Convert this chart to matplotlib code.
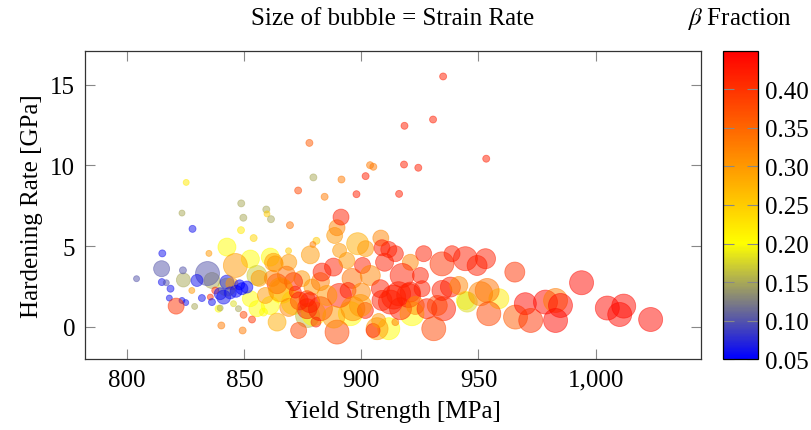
import matplotlib
matplotlib.use('Agg')
import matplotlib.pyplot as plt
import numpy as np
from matplotlib.colors import LinearSegmentedColormap
from matplotlib.ticker import FuncFormatter

plt.rcParams['font.family'] = ['Liberation Serif', 'DejaVu Serif']
plt.rcParams['mathtext.fontset'] = 'stix'

# yield strength [MPa], hardening rate [GPa], beta fraction, strain rate (bubble size)
# background (yellow / olive) samples first, then the rest in measurement order
yield_strength = [
    842.6, 842.6, 852.6, 855.4, 861.1, 866.0, 871.0, 877.0, 852.6, 855.4,
    861.1, 895.3, 879.6, 911.7, 921.6, 944.4, 945.2, 958.7, 824.0, 836.2,
    814.7, 834.3,
    804.0, 815.0, 814.8, 818.5, 816.7, 818.0, 823.4, 825.0, 823.8, 828.8,
    831.9, 827.6, 827.9, 825.2, 823.4, 834.9, 837.6, 835.5, 836.2, 839.0,
    839.7, 840.2, 845.4, 847.5, 849.7, 853.3, 849.3, 848.7, 849.6, 848.6,
    854.0, 859.4, 859.7, 861.4, 869.5, 868.9, 873.0, 877.8, 879.5, 880.8,
    879.3, 884.3, 891.5, 897.9, 901.8, 903.7, 905.1, 916.1, 918.2, 918.4,
    924.3, 930.6, 934.9, 953.3, 914.5, 880.6,
    820.9, 829.8, 839.7, 841.2, 842.6, 846.2, 844.7, 849.0, 851.1, 846.5,
    848.0, 844.0, 856.3, 862.5, 864.0, 859.0, 858.2, 863.2, 869.0, 864.0,
    873.2, 874.6, 878.9, 876.8, 876.8, 878.2, 871.0, 878.0, 865.5, 873.5,
    868.0, 862.0, 871.8, 869.0, 882.5, 896.0, 883.2, 888.1, 893.8, 890.7,
    888.6, 889.6, 891.3, 898.4, 901.8, 900.5, 903.8, 908.3, 908.8, 911.7,
    909.9, 914.5, 920.9, 926.6, 934.4, 938.7, 944.4, 949.4, 953.0, 965.5,
    917.4, 925.2, 882.5, 890.6, 894.3, 900.0, 896.4, 901.7, 889.6, 888.2,
    885.3, 899.6, 908.1, 913.8, 908.8, 906.7, 905.0, 907.4, 912.4, 916.7,
    915.9, 920.9, 925.9, 920.2, 923.0, 928.0, 935.1, 932.4, 930.9, 934.4,
    938.0, 941.6, 950.9, 953.7, 954.4, 965.8, 970.0, 972.3, 978.6, 982.9,
    985.0, 982.9, 994.0, 1005.0, 1012.0, 1010.3, 1023.5,
]
hardening_rate = [
    4.94, 2.46, 4.20, 3.18, 4.32, 2.20, 1.50, 0.70, 1.74, 1.12,
    1.32, 0.81, 0.81, -0.12, 0.81, 1.63, 1.53, 1.74, 2.90, 2.87,
    3.60, 3.30,
    2.98, 4.55, 2.77, 2.36, 2.73, 1.78, 1.63, 1.50, 3.50, 1.26,
    1.78, 2.25, 6.07, 8.95, 7.05, 4.55, 2.25, 1.84, 1.53, 1.12,
    1.16, 0.08, 1.43, 1.12, 0.74, 0.45, -0.23, 7.65, 6.76, 5.99,
    5.50, 7.27, 7.00, 6.67, 6.30, 4.71, 8.45, 11.40, 9.26, 5.33,
    5.10, 8.06, 9.13, 8.22, 9.34, 10.02, 9.92, 8.24, 10.06, 12.46,
    9.86, 12.85, 15.52, 10.42, 0.29, 0.29,
    1.28, 2.87, 2.05, 1.84, 2.77, 3.80, 2.67, 2.36, 2.46, 2.20,
    2.60, 2.10, 3.00, 4.00, 2.67, 1.94, 0.91, 3.90, 4.00, 0.29,
    -0.23, 2.98, 2.46, 1.74, 1.12, 4.46, 2.80, 1.50, 2.30, 1.60,
    3.20, 3.00, 2.15, 1.20, 2.80, 3.00, 3.39, 3.70, 4.11, 4.73,
    5.66, 6.14, 6.80, 5.15, 4.84, 3.80, 3.18, 5.50, 4.90, 4.79,
    4.00, 4.53, 4.00, 4.53, 3.90, 4.53, 4.22, 3.80, 4.22, 3.39,
    3.18, 3.18, 1.12, 1.94, 2.25, 2.15, 1.12, 1.01, -0.33, 0.60,
    1.94, 1.32, 2.36, 1.84, 1.63, -0.12, -0.23, 0.39, 1.53, 1.12,
    2.05, 2.15, 2.36, 1.94, 1.32, 1.12, 1.12, 1.32, -0.12, 2.25,
    2.46, 2.56, 2.05, 2.25, 0.81, 0.60, 1.43, 0.39, 1.53, 1.63,
    1.32, 0.39, 2.73, 1.16, 1.28, 0.76, 0.45,
]
beta_fraction = [
    0.20, 0.18, 0.20, 0.17, 0.20, 0.20, 0.20, 0.16, 0.20, 0.20,
    0.20, 0.20, 0.20, 0.20, 0.20, 0.20, 0.18, 0.22, 0.15, 0.15,
    0.10, 0.10,
    0.10, 0.06, 0.06, 0.06, 0.10, 0.06, 0.06, 0.06, 0.10, 0.15,
    0.06, 0.30, 0.06, 0.22, 0.15, 0.30, 0.40, 0.40, 0.06, 0.20,
    0.15, 0.33, 0.18, 0.15, 0.38, 0.40, 0.33, 0.15, 0.15, 0.22,
    0.24, 0.15, 0.25, 0.15, 0.34, 0.25, 0.38, 0.36, 0.15, 0.25,
    0.33, 0.33, 0.33, 0.42, 0.42, 0.33, 0.33, 0.42, 0.42, 0.42,
    0.42, 0.42, 0.42, 0.42, 0.33, 0.42,
    0.40, 0.06, 0.06, 0.06, 0.06, 0.30, 0.30, 0.05, 0.05, 0.05,
    0.05, 0.06, 0.30, 0.30, 0.40, 0.30, 0.20, 0.30, 0.30, 0.28,
    0.38, 0.30, 0.30, 0.40, 0.42, 0.30, 0.42, 0.42, 0.30, 0.42,
    0.34, 0.32, 0.42, 0.32, 0.33, 0.34, 0.42, 0.42, 0.30, 0.30,
    0.30, 0.32, 0.42, 0.28, 0.30, 0.42, 0.32, 0.32, 0.42, 0.42,
    0.42, 0.42, 0.32, 0.42, 0.40, 0.42, 0.42, 0.42, 0.42, 0.40,
    0.42, 0.42, 0.42, 0.42, 0.42, 0.32, 0.32, 0.42, 0.38, 0.30,
    0.30, 0.30, 0.42, 0.42, 0.42, 0.30, 0.42, 0.30, 0.42, 0.42,
    0.42, 0.42, 0.42, 0.42, 0.32, 0.42, 0.42, 0.38, 0.38, 0.42,
    0.42, 0.32, 0.32, 0.34, 0.38, 0.36, 0.44, 0.40, 0.44, 0.33,
    0.44, 0.44, 0.44, 0.44, 0.44, 0.44, 0.44,
]
strain_rate = [
    9, 9, 9, 10, 9, 12, 12, 12, 8, 8,
    9, 12, 12, 11, 12, 9, 10, 10, 7, 8,
    8, 12,
    3, 3.5, 3.5, 3.5, 3, 3, 3, 3, 3.5, 3,
    3.5, 3, 3.5, 3, 3, 3, 3.5, 3, 3.5, 3.5,
    3, 3.5, 3, 3, 3.5, 3.5, 3.5, 3.5, 3.5, 3.5,
    3.5, 3.5, 3, 3.5, 3.5, 3, 3.5, 3.5, 3.5, 3.5,
    3, 3.5, 3.5, 3.5, 3.5, 3.5, 3.5, 3.5, 3.5, 3.5,
    3.5, 3.5, 3.5, 3.5, 3.5, 5,
    8, 6, 6, 7, 7, 12, 6, 6, 6, 6,
    5, 6, 8, 9, 10, 8, 4, 8, 8, 9,
    8, 8, 8, 8, 10, 9, 9, 10, 12, 9,
    9, 8, 6, 9, 9, 10, 9, 9, 8, 7,
    8, 8, 8, 11, 8, 8, 10, 8, 8, 8,
    9, 8, 8, 8, 12, 8, 12, 10, 10, 10,
    12, 8, 12, 12, 8, 9, 12, 8, 12, 11,
    10, 11, 9, 12, 10, 11, 7, 7, 12, 11,
    12, 10, 8, 12, 9, 10, 12, 10, 12, 10,
    10, 9, 12, 12, 12, 12, 11, 12, 12, 12,
    12, 12, 12, 12, 12, 12, 12,
]

# blue -> yellow -> red, as in the pgfplots colormap
cmap = LinearSegmentedColormap.from_list(
    'beta', [(0.0, (0, 0, 1)), (0.375, (1, 1, 0)), (1.0, (1, 0, 0))])

FS = 18
AX_LEFT, AX_W = 0.1047, 0.7586

fig = plt.figure(figsize=(8.12, 4.31), dpi=100)
ax = fig.add_axes([AX_LEFT, 0.1647, AX_W, 0.7147])
cax = fig.add_axes([0.8904, 0.1647, 0.0431, 0.7147])

rate = np.array(strain_rate)
sizes = (1.44 * rate) ** 2
sc = ax.scatter(yield_strength, hardening_rate, s=sizes, c=beta_fraction,
                cmap=cmap, vmin=0.05, vmax=0.45, alpha=0.5,
                linewidths=0.6, edgecolors='face')

ax.set_xlim(782, 1045)
ax.set_ylim(-2, 17.1)
ax.set_xticks([800, 850, 900, 950, 1000])
ax.set_yticks([0, 5, 10, 15])
ax.xaxis.set_major_formatter(FuncFormatter(lambda v, p: f'{v:,.0f}'))
ax.tick_params(direction='in', length=7, width=0.8, color='#888888',
               top=True, right=True, labelsize=FS, pad=7)
for sp in ax.spines.values():
    sp.set_linewidth(0.9)
    sp.set_color('#333333')

ax.set_xlabel('Yield Strength [MPa]', fontsize=FS, labelpad=7)
ax.set_ylabel('Hardening Rate [GPa]', fontsize=FS, labelpad=5)
fig.text(AX_LEFT + AX_W / 2, 0.957, 'Size of bubble = Strain Rate',
         ha='center', va='center', fontsize=FS)

cb = fig.colorbar(sc, cax=cax)
cb.solids.set_alpha(1)
cb.set_ticks([0.05, 0.10, 0.15, 0.20, 0.25, 0.30, 0.35, 0.40])
cb.ax.yaxis.set_major_formatter(FuncFormatter(lambda v, p: f'{v:.2f}'))
cb.ax.tick_params(direction='in', length=8, width=0.8, color='#888888',
                  left=True, right=True, labelsize=FS, pad=5)
cb.outline.set_linewidth(0.9)
fig.text(0.911, 0.957, r'$\beta$ Fraction', ha='center', va='center',
         fontsize=FS)

plt.savefig('out.png', dpi=100)
